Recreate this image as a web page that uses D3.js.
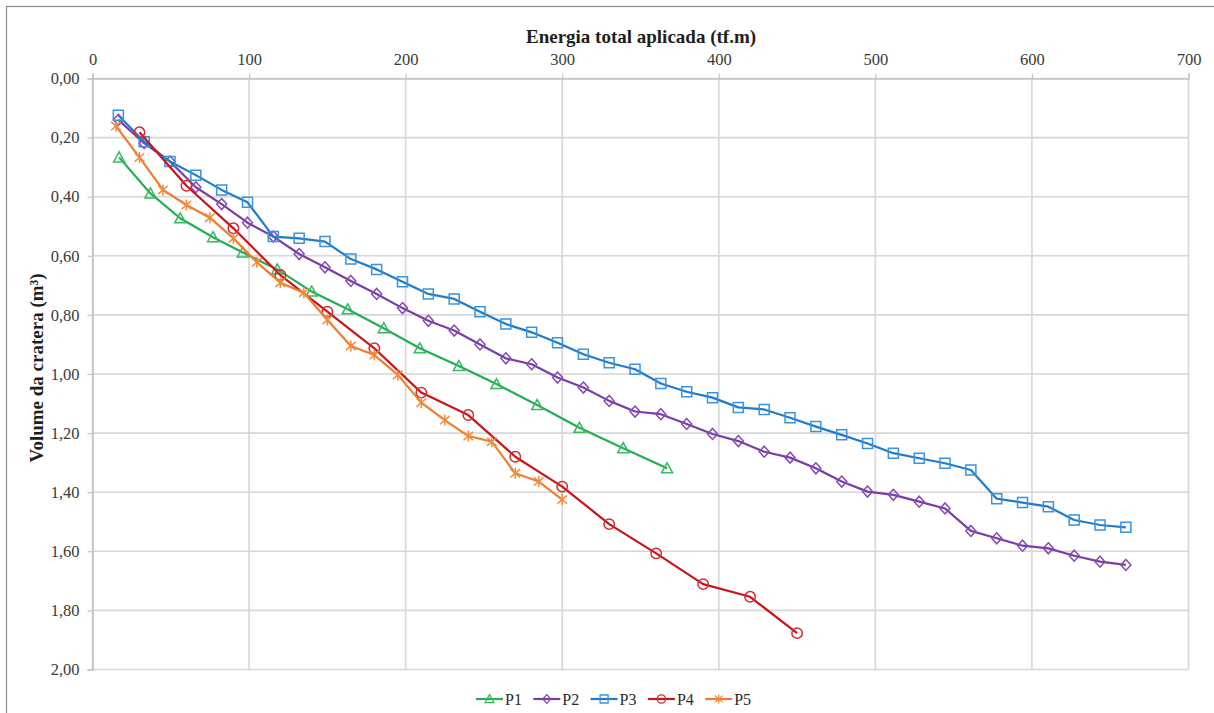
<!DOCTYPE html>
<html>
<head>
<meta charset="utf-8">
<script src="https://cdn.jsdelivr.net/npm/d3@7/dist/d3.min.js"></script>
<style>
  html, body { margin: 0; padding: 0; background: #ffffff; }
  svg { display: block; font-family: "Liberation Serif", "Times New Roman", serif; }
</style>
</head>
<body>
<svg id="chart" width="1214" height="713"></svg>
<script>
// Energy applied (tf.m) and crater volume (m³) for each test point
const seriesNames = ["P1", "P2", "P3", "P4", "P5"];

const p1Energy = [17, 37, 56, 77, 96, 118, 140, 163, 186, 209, 234, 258, 284, 311, 339, 367];
const p1Volume = [0.267, 0.389, 0.473, 0.537, 0.589, 0.646, 0.721, 0.781, 0.845, 0.913, 0.973, 1.034, 1.105, 1.182, 1.251, 1.319];

const p2Energy = [16.5, 33, 49.5, 66, 82.5, 99, 115.5, 132, 148.5, 165, 181.5, 198, 214.5, 231, 247.5, 264, 280.5, 297, 313.5, 330,
                  346.5, 363, 379.5, 396, 412.5, 429, 445.5, 462, 478.5, 495, 511.5, 528, 544.5, 561, 577.5, 594, 610.5, 627, 643.5, 660];
const p2Volume = [0.140, 0.219, 0.281, 0.368, 0.425, 0.488, 0.535, 0.594, 0.639, 0.685, 0.729, 0.777, 0.820, 0.853, 0.900, 0.947, 0.967, 1.012, 1.046, 1.091,
                  1.127, 1.136, 1.169, 1.203, 1.227, 1.263, 1.283, 1.319, 1.364, 1.398, 1.409, 1.432, 1.455, 1.531, 1.556, 1.581, 1.590, 1.615, 1.635, 1.646];

const p3Energy = [16.5, 33, 49.5, 66, 82.5, 99, 115.5, 132, 148.5, 165, 181.5, 198, 214.5, 231, 247.5, 264, 280.5, 297, 313.5, 330,
                  346.5, 363, 379.5, 396, 412.5, 429, 445.5, 462, 478.5, 495, 511.5, 528, 544.5, 561, 577.5, 594, 610.5, 627, 643.5, 660];
const p3Volume = [0.124, 0.214, 0.281, 0.327, 0.377, 0.419, 0.535, 0.541, 0.552, 0.611, 0.646, 0.688, 0.729, 0.746, 0.789, 0.831, 0.859, 0.894, 0.933, 0.962,
                  0.984, 1.032, 1.060, 1.080, 1.113, 1.120, 1.148, 1.178, 1.206, 1.235, 1.268, 1.285, 1.302, 1.325, 1.422, 1.435, 1.449, 1.494, 1.511, 1.519];

const p4Energy = [30, 60, 90, 120, 150, 180, 210, 240, 270, 300, 330, 360, 390, 420, 450];
const p4Volume = [0.182, 0.363, 0.507, 0.665, 0.789, 0.913, 1.063, 1.139, 1.280, 1.381, 1.508, 1.607, 1.711, 1.754, 1.877];

const p5Energy = [15, 30, 45, 60, 75, 90, 105, 120, 135, 150, 165, 180, 195, 210, 225, 240, 255, 270, 285, 300];
const p5Volume = [0.161, 0.267, 0.377, 0.428, 0.471, 0.541, 0.622, 0.691, 0.725, 0.817, 0.905, 0.936, 1.003, 1.097, 1.156, 1.210, 1.229, 1.336, 1.364, 1.425];

const xTicks = [0, 100, 200, 300, 400, 500, 600, 700];
const yTicks = [0, 0.2, 0.4, 0.6, 0.8, 1.0, 1.2, 1.4, 1.6, 1.8, 2.0];

const xTitle = "Energia total aplicada (tf.m)";
const yTitle = "Volume da cratera (m³)";

// Styling per series: line colour, marker colour, marker shape
const styles = {
  P1: { line: "#25ad52", marker: "#37b862", shape: "triangle" },
  P2: { line: "#7a3ca8", marker: "#8549b3", shape: "diamond" },
  P3: { line: "#1f7bcc", marker: "#3a93dc", shape: "square" },
  P4: { line: "#c9141c", marker: "#d52a30", shape: "circle" },
  P5: { line: "#ef7d2c", marker: "#f3893a", shape: "star" }
};

const series = [
  { name: "P1", x: p1Energy, y: p1Volume },
  { name: "P2", x: p2Energy, y: p2Volume },
  { name: "P3", x: p3Energy, y: p3Volume },
  { name: "P4", x: p4Energy, y: p4Volume },
  { name: "P5", x: p5Energy, y: p5Volume }
].map(s => ({ name: s.name, points: s.x.map((e, i) => ({ e, v: s.y[i] })) }));

const svg = d3.select("#chart");
const plot = { left: 92.5, right: 1188.5, top: 78.5, bottom: 669.5 };

const x = d3.scaleLinear().domain([0, 700]).range([plot.left, plot.right]);
const y = d3.scaleLinear().domain([0, 2]).range([plot.top, plot.bottom]);

const ptBr = d3.formatLocale({ decimal: ",", thousands: ".", grouping: [3], currency: ["R$", ""] });
const yFmt = ptBr.format(".2f");

// outer frame of the chart object
svg.append("rect")
  .attr("x", 6.5).attr("y", 6.5)
  .attr("width", 1214).attr("height", 713)
  .attr("fill", "none").attr("stroke", "#8c8c8c").attr("stroke-width", 1.2);

// gridlines
const grid = svg.append("g").attr("class", "grid");
grid.selectAll("line.v").data(xTicks).join("line")
  .attr("class", "v")
  .attr("x1", d => x(d)).attr("x2", d => x(d))
  .attr("y1", plot.top).attr("y2", plot.bottom)
  .attr("stroke", "#d6d6d6").attr("stroke-width", 1.6);
grid.selectAll("line.h").data(yTicks).join("line")
  .attr("class", "h")
  .attr("x1", plot.left).attr("x2", plot.right)
  .attr("y1", d => y(d)).attr("y2", d => y(d))
  .attr("stroke", "#d6d6d6").attr("stroke-width", 1.6);

// axes
const xAxis = svg.append("g")
  .attr("transform", `translate(0,${plot.top})`)
  .call(d3.axisTop(x).tickValues(xTicks).tickFormat(d3.format("d")).tickSize(5).tickPadding(9));
const yAxis = svg.append("g")
  .attr("transform", `translate(${plot.left},0)`)
  .call(d3.axisLeft(y).tickValues(yTicks).tickFormat(yFmt).tickSize(5).tickPadding(8));

[xAxis, yAxis].forEach(ax => {
  ax.select(".domain").attr("stroke", "#c4c4c4").attr("stroke-width", 1.6);
  ax.selectAll(".tick line").attr("stroke", "#c4c4c4").attr("stroke-width", 1.2);
  ax.selectAll(".tick text")
    .attr("fill", "#3a3a3a")
    .style("font-family", "'Liberation Serif', 'Times New Roman', serif")
    .style("font-size", "16.5px");
});

// axis titles
svg.append("text")
  .attr("x", 641).attr("y", 43)
  .attr("text-anchor", "middle")
  .attr("fill", "#1e1e1e")
  .style("font-size", "19px").style("font-weight", "bold")
  .text(xTitle);

svg.append("text")
  .attr("transform", "translate(43,368) rotate(-90)")
  .attr("text-anchor", "middle")
  .attr("fill", "#1e1e1e")
  .style("font-size", "19px").style("font-weight", "bold")
  .text(yTitle);

// marker shapes, centred at 0,0
function markerPath(shape) {
  switch (shape) {
    case "triangle": return "M0,-5.5L5.5,4.5L-5.5,4.5Z";
    case "diamond": return "M0,-5.5L5,0L0,5.5L-5,0Z";
    case "square": return "M-5,-5H5V5H-5Z";
    case "circle": return "M5.2,0A5.2,5.2 0 1,1 -5.2,0A5.2,5.2 0 1,1 5.2,0Z";
    case "star": return "M0,-5.5V5.5M-4.8,-4.2L4.8,4.2M-4.8,4.2L4.8,-4.2";
  }
}

const line = d3.line().x(d => x(d.e)).y(d => y(d.v));

const seriesG = svg.append("g").selectAll("g").data(series).join("g");

seriesG.append("path")
  .attr("d", d => line(d.points))
  .attr("fill", "none")
  .attr("stroke", d => styles[d.name].line)
  .attr("stroke-width", 2.2)
  .attr("stroke-linejoin", "round");

seriesG.each(function (s) {
  const st = styles[s.name];
  d3.select(this).selectAll("path.mk").data(s.points).join("path")
    .attr("class", "mk")
    .attr("transform", d => `translate(${x(d.e)},${y(d.v)})`)
    .attr("d", markerPath(st.shape))
    .attr("fill", "none")
    .attr("stroke", st.marker)
    .attr("stroke-width", 1.5);
});

// legend
const legend = svg.append("g").attr("transform", "translate(476,699)");
const item = legend.selectAll("g").data(seriesNames).join("g")
  .attr("transform", (d, i) => `translate(${i * 57.3},0)`);
item.append("line")
  .attr("x1", 0).attr("x2", 27).attr("y1", 0).attr("y2", 0)
  .attr("stroke", d => styles[d].line).attr("stroke-width", 2.2);
item.append("path")
  .attr("transform", "translate(13.5,0) scale(0.8)")
  .attr("d", d => markerPath(styles[d].shape))
  .attr("fill", "none")
  .attr("stroke", d => styles[d].marker)
  .attr("stroke-width", 1.6);
item.append("text")
  .attr("x", 29).attr("y", 5.5)
  .attr("fill", "#2a2a2a")
  .style("font-size", "16px")
  .text(d => d);
</script>
</body>
</html>
